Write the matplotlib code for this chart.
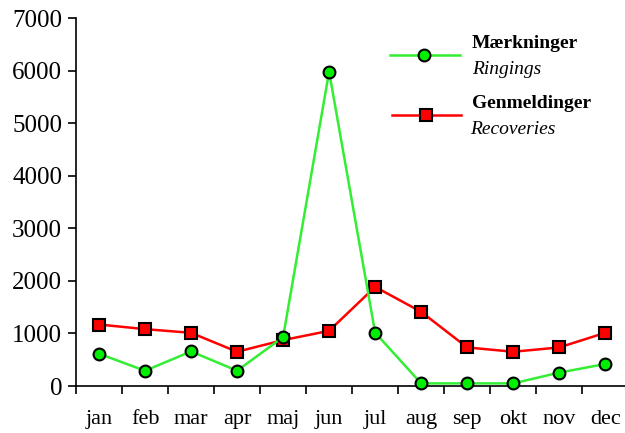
import matplotlib
matplotlib.use("Agg")
import matplotlib.pyplot as plt
import numpy as np

months = ["jan", "feb", "mar", "apr", "maj", "jun", "jul", "aug", "sep", "okt", "nov", "dec"]
ringings = [615, 290, 658, 291, 930, 5980, 1015, 50, 50, 50, 255, 418]
recoveries = [1170, 1082, 1012, 652, 873, 1050, 1886, 1411, 734, 652, 734, 1012]
yticks = [0, 1000, 2000, 3000, 4000, 5000, 6000, 7000]

plt.rcParams['font.family'] = ['Liberation Serif', 'DejaVu Serif']

fig = plt.figure(figsize=(6.25, 4.33), dpi=100)
ax = fig.add_axes([0.1216, 0.1085, 0.8784, 0.8499])

x = np.arange(len(months))
green_line = "#33ee33"
green_fill = "#00ee00"
red = "#ff0000"

ax.plot(x, recoveries, color=red, lw=1.8, marker='s', markersize=8.5,
        markerfacecolor=red, markeredgecolor='black', markeredgewidth=1.5, zorder=3,
        clip_on=False)
ax.plot(x, ringings, color=green_line, lw=1.8, marker='o', markersize=8.5,
        markerfacecolor=green_fill, markeredgecolor='black', markeredgewidth=1.5, zorder=4,
        clip_on=False)

ax.set_xlim(-0.5, 11.43)
ax.set_ylim(0, 7000)
ax.set_yticks(yticks)
ax.set_yticklabels([str(v) for v in yticks], fontsize=18)

ax.set_xticks(np.arange(-0.5, 11.5, 1.0))
ax.set_xticklabels([])
ax.set_xticks(x, minor=True)
ax.set_xticklabels(months, minor=True, fontsize=16)
ax.tick_params(axis='x', which='minor', length=0, pad=17)
ax.tick_params(axis='x', which='major', length=6, width=1.2, direction='out')
ax.tick_params(axis='y', length=6, width=1.2, direction='out', pad=4)

for s in ['top', 'right']:
    ax.spines[s].set_visible(False)
for s in ['left', 'bottom']:
    ax.spines[s].set_linewidth(1.2)

# legend drawn manually
ax.plot([0.572, 0.699], [0.899, 0.899], transform=ax.transAxes, color=green_line, lw=1.8, clip_on=False)
ax.plot([0.634], [0.899], transform=ax.transAxes, marker='o', markersize=8.5,
        markerfacecolor=green_fill, markeredgecolor='black', markeredgewidth=1.5, clip_on=False)
ax.plot([0.576, 0.701], [0.736, 0.736], transform=ax.transAxes, color=red, lw=1.8, clip_on=False)
ax.plot([0.638], [0.736], transform=ax.transAxes, marker='s', markersize=8.5,
        markerfacecolor=red, markeredgecolor='black', markeredgewidth=1.5, clip_on=False)

ax.text(0.721, 0.932, "Mærkninger", transform=ax.transAxes, fontsize=14, fontweight='bold', va='center', ha='left')
ax.text(0.721, 0.859, "Ringings", transform=ax.transAxes, fontsize=14, fontstyle='italic', va='center', ha='left')
ax.text(0.721, 0.769, "Genmeldinger", transform=ax.transAxes, fontsize=14, fontweight='bold', va='center', ha='left')
ax.text(0.717, 0.696, "Recoveries", transform=ax.transAxes, fontsize=14, fontstyle='italic', va='center', ha='left')

fig.savefig("out.png", dpi=100)
